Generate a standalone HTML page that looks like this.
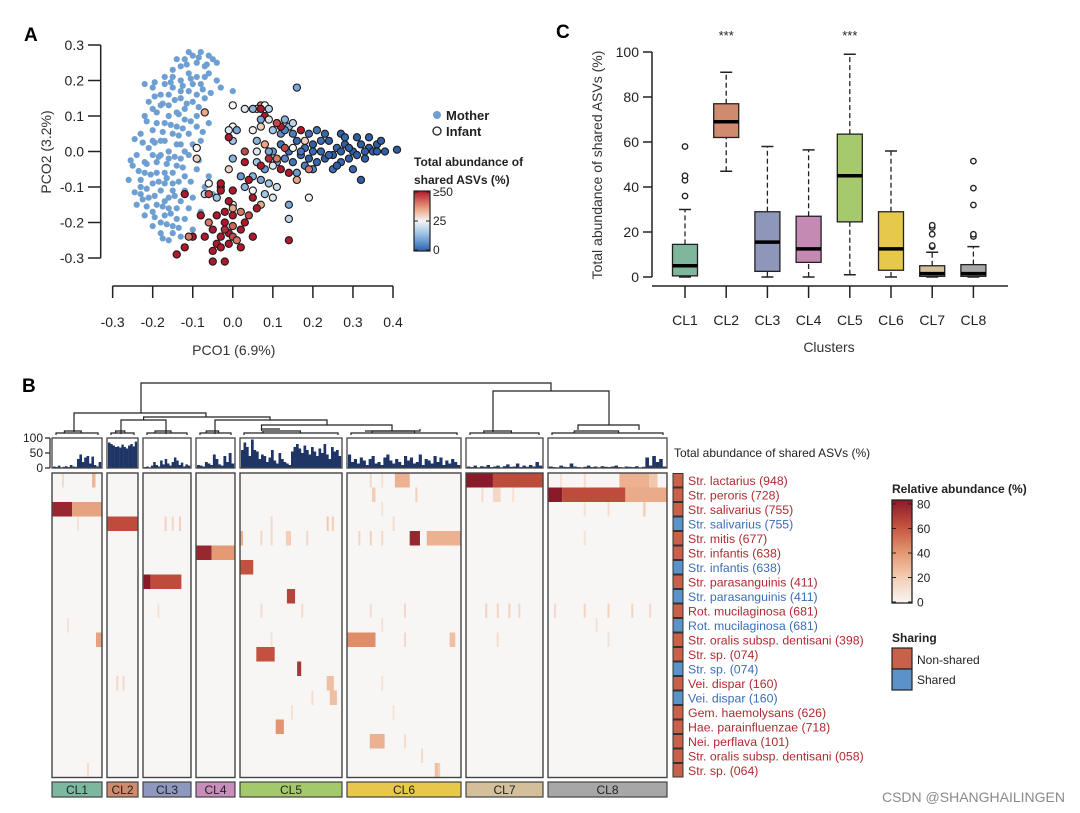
<!DOCTYPE html>
<html><head><meta charset="utf-8">
<style>
html,body{margin:0;padding:0;background:#fff;}
svg{display:block;font-family:"Liberation Sans",Arial,sans-serif;}
</style></head>
<body>
<svg id="fig" width="1080" height="813" viewBox="0 0 1080 813" xmlns="http://www.w3.org/2000/svg">
<rect x="0" y="0" width="1080" height="813" fill="#fff"/>
<text x="24" y="41" font-size="19" font-weight="bold">A</text>
<text x="556" y="38" font-size="19" font-weight="bold">C</text>
<text x="22" y="392" font-size="19" font-weight="bold">B</text>
<g id="pA"></g>
<g id="pC"></g>
<g id="pB"></g>
<text x="1065" y="802" font-size="14" fill="#8a8a8a" text-anchor="end">CSDN @SHANGHAILINGEN</text>
</svg>
<script>
var NS="http://www.w3.org/2000/svg";
function mk(tag,attrs,parent,txt){var e=document.createElementNS(NS,tag);for(var k in attrs)e.setAttribute(k,attrs[k]);if(txt!==undefined)e.textContent=txt;parent.appendChild(e);return e;}
function lerpColor(stops,v){
  if(v<=stops[0][0])return stops[0][1];
  for(var i=1;i<stops.length;i++){if(v<=stops[i][0]){var a=stops[i-1],b=stops[i];var t=(v-a[0])/(b[0]-a[0]);
    var ca=hex(a[1]),cb=hex(b[1]);return "rgb("+Math.round(ca[0]+(cb[0]-ca[0])*t)+","+Math.round(ca[1]+(cb[1]-ca[1])*t)+","+Math.round(ca[2]+(cb[2]-ca[2])*t)+")";}}
  return stops[stops.length-1][1];}
function hex(h){return [parseInt(h.substr(1,2),16),parseInt(h.substr(3,2),16),parseInt(h.substr(5,2),16)];}

/* ===== Panel A data ===== */
var pcoXTicks=[-0.3,-0.2,-0.1,0.0,0.1,0.2,0.3,0.4];
var pcoYTicks=[0.3,0.2,0.1,0.0,-0.1,-0.2,-0.3];
var motherPts=[[-0.12,0.26],[-0.1,0.27],[-0.08,0.28],[-0.06,0.27],[-0.09,0.25],[-0.13,0.24],[-0.05,0.26],[-0.07,0.24],[-0.11,0.22],[-0.15,0.23],[-0.09,0.21],[-0.06,0.22],[-0.04,0.25],[-0.13,0.2],[-0.17,0.21],[-0.2,0.18],[-0.22,0.19],[-0.08,0.19],[-0.04,0.2],[-0.03,0.18],[0.0,0.17],[-0.15,0.18],[-0.11,0.17],[-0.18,0.16],[-0.13,0.15],[-0.21,0.14],[-0.16,0.13],[-0.1,0.14],[-0.07,0.15],[-0.19,0.11],[-0.14,0.11],[-0.22,0.1],[-0.12,0.09],[-0.17,0.08],[-0.09,0.1],[-0.06,0.08],[-0.2,0.06],[-0.15,0.05],[-0.23,0.05],[-0.11,0.05],[-0.18,0.03],[-0.13,0.02],[-0.08,0.03],[-0.21,0.01],[-0.16,0.0],[-0.24,-0.01],[-0.11,-0.01],[-0.19,-0.03],[-0.14,-0.04],[-0.25,-0.04],[-0.22,-0.06],[-0.17,-0.06],[-0.09,-0.05],[-0.12,-0.07],[-0.26,-0.08],[-0.2,-0.09],[-0.15,-0.09],[-0.23,-0.1],[-0.18,-0.11],[-0.12,-0.11],[-0.21,-0.13],[-0.16,-0.13],[-0.1,-0.13],[-0.24,-0.15],[-0.19,-0.15],[-0.14,-0.16],[-0.22,-0.18],[-0.17,-0.18],[-0.12,-0.19],[-0.2,-0.21],[-0.15,-0.21],[-0.18,-0.23],[-0.13,-0.24],[-0.16,-0.25],[-0.06,-0.07],[-0.05,-0.12],[-0.08,-0.17],[-0.06,-0.2],[-0.07,-0.1],[-0.1,-0.22],[-0.17,0.19],[-0.14,0.07],[-0.19,0.08],[-0.16,-0.02],[-0.2,-0.01],[-0.13,-0.02],[-0.15,-0.11],[-0.19,-0.06],[-0.22,-0.03],[-0.17,0.03],[-0.2,0.12],[-0.12,0.12],[-0.1,0.02],[-0.13,-0.14],[-0.18,-0.2],[-0.23,-0.12],[-0.09,0.07],[-0.16,0.16],[-0.07,0.21],[-0.1,0.19],[-0.14,0.26],[-0.11,0.28],[-0.15,0.21],[-0.18,0.13],[-0.16,0.1],[-0.14,0.02],[-0.18,-0.01],[-0.15,-0.06],[-0.17,-0.09],[-0.14,-0.19],[-0.16,-0.16],[-0.2,-0.17],[-0.11,-0.16],[-0.12,0.0],[-0.2,0.03],[-0.23,-0.08],[-0.17,-0.14],[-0.15,-0.23],[-0.13,0.17],[-0.09,0.16],
[-0.115,0.245],[-0.085,0.265],[-0.065,0.245],[-0.105,0.205],[-0.125,0.185],[-0.155,0.195],[-0.145,0.145],[-0.175,0.135],[-0.195,0.155],[-0.215,0.085],[-0.175,0.055],[-0.155,0.075],[-0.135,0.045],[-0.195,0.025],[-0.225,0.025],[-0.185,-0.015],[-0.145,-0.015],[-0.215,-0.035],[-0.165,-0.035],[-0.125,-0.045],[-0.205,-0.065],[-0.235,-0.055],[-0.165,-0.075],[-0.185,-0.085],[-0.135,-0.085],[-0.215,-0.105],[-0.195,-0.125],[-0.145,-0.125],[-0.175,-0.155],[-0.215,-0.155],[-0.155,-0.175],[-0.195,-0.185],[-0.165,-0.205],[-0.135,-0.215],[-0.175,-0.245],[-0.125,0.065],[-0.105,0.085],[-0.135,0.105],[-0.115,0.135],[-0.085,0.125],[-0.075,0.175],[-0.055,0.165],[-0.195,0.195],[-0.245,0.035],[-0.255,-0.025],[-0.245,-0.115],[-0.225,-0.135],[-0.105,-0.085],[-0.085,-0.025],[-0.075,0.055]];
var infantPts=[[0.12,0.02,3],[0.14,0.0,2],[0.16,0.03,1],[0.18,0.01,2],[0.2,0.02,0],[0.22,0.0,1],[0.24,0.03,0],[0.26,0.01,1],[0.28,0.02,0],[0.3,0.0,0],[0.32,0.02,0],[0.34,0.01,0],[0.36,0.02,0],[0.38,0.0,0],[0.41,0.005,0],[0.13,-0.02,5],[0.15,-0.03,3],[0.17,-0.01,2],[0.19,-0.02,0],[0.21,-0.03,1],[0.23,-0.02,0],[0.25,-0.01,0],[0.27,-0.03,1],[0.29,-0.02,0],[0.31,-0.01,0],[0.33,-0.02,0],[0.35,0.0,0],[0.15,0.05,4],[0.19,0.05,2],[0.23,0.05,1],[0.27,0.05,0],[0.31,0.04,0],[0.34,0.04,0],[0.37,0.03,0],[0.21,0.06,3],[0.25,-0.05,2],[0.3,-0.05,1],[0.32,-0.08,0],[0.2,-0.05,5],[0.16,-0.06,8],[0.11,-0.03,10],[0.1,0.0,8],[0.12,0.05,6],[0.14,0.07,12],[0.18,-0.04,4],[0.28,0.04,1],[0.26,-0.04,0],[0.22,0.03,2],[0.17,0.0,3],[0.24,-0.01,1],[0.29,0.01,0],[0.33,0.0,0],[0.36,0.0,0],[0.2,0.0,1],[0.27,0.0,0],
[0.13,0.01,45],[0.17,0.06,50],[0.11,-0.02,40],[0.16,-0.08,35],[0.14,-0.06,50],[0.18,0.03,30],[0.12,-0.05,50],[0.15,0.01,25],[0.19,-0.05,40],
[0.07,0.13,40],[0.08,0.13,25],[0.09,0.12,18],[0.06,0.12,30],[0.05,0.12,12],[0.03,0.12,22],[0.0,0.13,25],[-0.07,0.11,35],[0.08,0.1,50],[0.07,0.09,10],[0.09,0.09,22],[0.11,0.08,25],[0.13,0.09,12],[0.15,0.08,18],[0.13,0.06,5],[0.1,0.06,15],[0.07,0.07,30],[0.0,0.07,25],[0.01,0.06,10],[-0.01,0.06,22],[0.05,0.06,25],[0.0,0.03,15],[-0.01,0.04,50],[0.06,0.03,12],[0.08,0.02,35],[0.06,0.0,22],[0.09,0.0,10],[0.03,0.0,45],[0.0,-0.02,12],[0.03,-0.03,50],[0.06,-0.03,15],[0.08,-0.05,8],[0.1,-0.04,22],[-0.01,-0.05,30],[0.02,-0.07,8],[0.05,-0.07,12],[0.07,-0.08,10],[0.09,-0.09,15],[0.11,-0.1,20],[-0.09,0.01,25],[-0.09,-0.02,30],[-0.06,-0.09,25],[-0.07,-0.12,20],[-0.04,-0.13,15],[-0.03,-0.1,50],[0.03,-0.1,12],[0.05,-0.11,25],[0.08,-0.12,15],[0.1,-0.13,22],[0.14,-0.15,10],[0.14,-0.19,18],[0.19,-0.13,25],[0.16,0.18,10],[0.0,-0.15,25],[0.07,-0.15,35],
[-0.03,-0.09,50],[-0.03,-0.11,50],[0.0,-0.11,50],[-0.12,-0.12,50],[-0.06,-0.12,45],[-0.01,-0.14,50],[0.0,-0.16,35],[-0.02,-0.17,50],[0.02,-0.17,40],[-0.04,-0.18,50],[0.0,-0.18,50],[-0.08,-0.18,50],[0.04,-0.18,45],[-0.06,-0.2,40],[-0.02,-0.2,50],[0.03,-0.2,50],[-0.05,-0.22,50],[-0.01,-0.23,50],[0.02,-0.22,50],[0.05,-0.24,50],[-0.1,-0.24,50],[-0.07,-0.24,50],[-0.03,-0.24,50],[0.0,-0.24,45],[0.01,-0.25,40],[-0.04,-0.26,50],[-0.01,-0.26,50],[0.02,-0.27,50],[-0.03,-0.27,50],[-0.05,-0.28,50],[-0.12,-0.27,50],[-0.14,-0.29,50],[-0.05,-0.31,50],[-0.02,-0.31,50],[-0.11,-0.24,40],[0.14,-0.25,50],[0.0,-0.21,42],[-0.02,-0.22,48],[0.06,-0.16,50],[0.05,-0.13,50],[0.04,-0.08,50],[0.07,-0.04,50],[0.12,0.07,50],[0.07,0.12,50],[0.11,0.08,45],[0.09,-0.02,48]];
var scatterLegend=["Mother","Infant"];
var abundTicks=[50,25,0];
var abundTickLabels=["≥50","25","0"];

/* ===== Panel C data ===== */
var clusters=["CL1","CL2","CL3","CL4","CL5","CL6","CL7","CL8"];
var boxLow=[0,47,0,0,1,0,0,0];
var boxQ1=[0.5,62,2.5,6.5,24.5,3,0.3,0.3];
var boxMed=[5,69,15.5,12.5,45,12.5,1.5,1.5];
var boxQ3=[14.5,77,29,27,63.5,29,5,5.5];
var boxHigh=[30,91,58,56.5,99,56,11,13.5];
var boxOutliers=[[36,43,45,58],[],[],[],[],[],[13.5,14,19,22,23],[18,19,32,39.5,51.5]];
var boxSig=["","***","","","***","","",""];
var boxYTicks=[0,20,40,60,80,100];

/* ===== Panel B data ===== */
var sharedBars=[
 [5,3,8,2,4,6,3,10,5,4,30,45,20,35,40,15,38,10,5,20],
 [85,80,75,70,72,68,78,70,65,75,80,72,88],
 [3,5,2,8,20,10,5,25,12,30,15,8,20,35,25,10,18,5,12,8],
 [10,8,5,20,15,10,45,30,12,8,40,20,50,15],
 [60,85,70,40,95,60,55,30,45,40,20,35,60,25,15,50,30,20,15,10,55,70,80,65,50,75,60,45,70,55,40,65,50,80,45,30,70,55,60,40],
 [45,20,30,15,35,25,10,30,40,15,20,10,35,45,25,15,30,20,10,40,25,35,15,20,45,10,30,25,15,40,20,35,10,25,15,30,20,10],
 [5,3,8,2,6,4,10,3,5,8,2,6,12,4,5,15,3,8,4,10,5,20,8],
 [5,3,2,8,4,3,15,5,3,2,4,8,3,5,2,6,4,3,5,8,3,2,5,4,3,6,2,4,35,8,40,20,30,5]];
var barTicks=[0,50,100];
var taxa=["Str. lactarius (948)","Str. peroris (728)","Str. salivarius (755)","Str. salivarius (755)","Str. mitis (677)","Str. infantis (638)","Str. infantis (638)","Str. parasanguinis (411)","Str. parasanguinis (411)","Rot. mucilaginosa (681)","Rot. mucilaginosa (681)","Str. oralis subsp. dentisani (398)","Str. sp. (074)","Str. sp. (074)","Vei. dispar (160)","Vei. dispar (160)","Gem. haemolysans (626)","Hae. parainfluenzae (718)","Nei. perflava (101)","Str. oralis subsp. dentisani (058)","Str. sp. (064)"];
var taxaShared=[0,0,0,1,0,0,1,0,1,0,1,0,0,1,0,1,0,0,0,0,0];
/* [row, cluster, fracStart, fracEnd, relative abundance %] */
var heatBlocks=[[0,6,0,0.35,80],[0,6,0.35,1,62],[0,7,0.6,0.85,30],[0,7,0.85,0.92,22],[0,5,0.42,0.55,30],[0,0,0.8,0.87,28],
[1,7,0,0.12,80],[1,7,0.12,0.65,62],[1,7,0.65,1,32],[1,5,0.22,0.25,20],[1,6,0.35,0.45,15],
[2,0,0,0.4,75],[2,0,0.4,1,35],[2,7,0.8,0.82,20],
[3,1,0,1,62],
[4,5,0.55,0.64,75],[4,5,0.7,1,30],[4,4,0,0.03,30],[4,4,0.45,0.5,20],
[5,3,0,0.4,75],[5,3,0.4,1,38],
[6,4,0,0.13,60],
[7,2,0,0.8,62],[7,2,0.02,0.15,80],
[8,4,0.46,0.54,65],
[11,5,0,0.25,42],[11,0,0.88,1,35],[11,5,0.9,0.95,25],
[12,4,0.16,0.34,60],
[13,4,0.56,0.6,70],
[14,4,0.85,0.92,25],
[15,4,0.88,0.95,25],
[17,4,0.35,0.43,40],
[18,5,0.2,0.33,30],
[20,5,0.77,0.8,25]];
/* faint single-sample stripes: [row, cluster, frac, relative abundance %] */
var heatStripes=[[0,0,0.2,12],[0,5,0.2,14],[0,5,0.3,10],[0,7,0.1,10],[0,7,0.3,12],[1,5,0.6,18],[1,6,0.2,12],[1,6,0.6,10],[2,5,0.3,10],[2,7,0.3,10],[2,7,0.5,12],
[3,2,0.45,18],[3,2,0.6,15],[3,2,0.75,18],[3,4,0.3,14],[3,4,0.85,22],[3,4,0.9,20],[3,5,0.4,12],[3,0,0.5,10],
[4,4,0.2,15],[4,4,0.3,14],[4,4,0.65,15],[4,5,0.1,16],[4,5,0.2,18],[4,5,0.3,15],[4,7,0.3,10],
[9,6,0.25,18],[9,6,0.4,16],[9,6,0.55,18],[9,6,0.68,14],[9,7,0.05,14],[9,7,0.3,16],[9,7,0.5,18],[9,7,0.7,16],[9,7,0.85,14],[9,5,0.2,12],[9,5,0.5,14],[9,4,0.2,12],[9,4,0.6,12],[9,2,0.3,10],
[10,5,0.3,10],[10,7,0.4,10],[10,0,0.3,10],
[11,6,0.4,12],[11,7,0.5,10],[11,5,0.5,14],[11,4,0.3,10],
[14,1,0.3,15],[14,1,0.5,14],[14,5,0.3,10],[15,4,0.7,12],[16,5,0.4,10],[16,4,0.5,10],
[18,5,0.5,12],[19,5,0.65,14],[20,0,0.7,12],[20,5,0.8,20]];
var relTicks=[0,20,40,60,80];

/* ===== Panel A drawing ===== */
(function(){
var g=document.getElementById('pA');
function X(v){return 232.8+v*400.5;}
function Y(v){return 151.5-v*355;}
var colInf=[[0,"#2f5ea8"],[8,"#6a9ad4"],[16,"#a9cbe8"],[25,"#f5f5f5"],[35,"#eba684"],[50,"#b2182b"]];
var ax=mk('g',{},g);


mk('line',{x1:100.7,y1:Y(0.3),x2:100.7,y2:Y(-0.3),stroke:"#222","stroke-width":1.5},ax);
pcoYTicks.forEach(function(t){
  mk('line',{x1:88,y1:Y(t),x2:100.7,y2:Y(t),stroke:"#222","stroke-width":1.5},ax);
  var tx=mk('text',{x:84,y:Y(t)+5,"font-size":14,"text-anchor":"end",fill:"#222"},ax,t.toFixed(1));
  
  
});
var ax2=mk('g',{},g);


mk('line',{x1:X(-0.3),y1:286,x2:X(0.4),y2:286,stroke:"#222","stroke-width":1.5},ax2);
pcoXTicks.forEach(function(t){
  mk('line',{x1:X(t),y1:286,x2:X(t),y2:298,stroke:"#222","stroke-width":1.5},ax2);
  var tx=mk('text',{x:X(t),y:327,"font-size":14,"text-anchor":"middle",fill:"#222"},ax2,t.toFixed(1));
  
  
});
var xt=mk('text',{x:X(0.0)+1,y:355,"font-size":14,"text-anchor":"middle",fill:"#333"},g,"PCO1 (6.9%)");


var yt=mk('text',{x:0,y:0,"font-size":14,"text-anchor":"middle",fill:"#333",transform:"translate(51,152) rotate(-90)"},g,"PCO2 (3.2%)");


var mg=mk('g',{},g);


motherPts.forEach(function(p){
  var c=mk('circle',{cx:X(p[0]),cy:Y(p[1]),r:3.1,fill:"#6d9fd2"},mg);
  
  
});
var ig=mk('g',{},g);


infantPts.forEach(function(p){
  var c=mk('circle',{cx:X(p[0]),cy:Y(p[1]),r:3.6,fill:lerpColor(colInf,p[2]),stroke:"#1a1a1a","stroke-width":1.1},ig);
  
  
});
var lg=mk('g',{},g);


mk('circle',{cx:437,cy:115,r:4,fill:"#6d9fd2"},lg);
mk('text',{x:446,y:120,"font-size":13,"font-weight":"bold",fill:"#222"},lg,scatterLegend[0]);
mk('circle',{cx:437,cy:131,r:4,fill:"#fff",stroke:"#222","stroke-width":1.3},lg);
mk('text',{x:446,y:136,"font-size":13,"font-weight":"bold",fill:"#222"},lg,scatterLegend[1]);
mk('text',{x:414,y:166,"font-size":12,"font-weight":"bold",fill:"#222"},lg,"Total abundance of");
mk('text',{x:414,y:184,"font-size":12,"font-weight":"bold",fill:"#222"},lg,"shared ASVs (%)");
var defs=mk('defs',{},g);
var gr=mk('linearGradient',{id:"gA",x1:0,y1:1,x2:0,y2:0},defs);
[[0,"#2f5ea8"],[0.16,"#6a9ad4"],[0.32,"#a9cbe8"],[0.5,"#f5f5f5"],[0.7,"#eba684"],[1,"#b2182b"]].forEach(function(s){mk('stop',{offset:s[0],"stop-color":s[1]},gr);});
var cb=mk('rect',{x:414,y:191,width:16,height:60,fill:"url(#gA)",stroke:"#222","stroke-width":1.2},lg);


abundTicks.forEach(function(t,i){
  var yy=251-t/50*58-1;
  mk('line',{x1:414,y1:yy,x2:418,y2:yy,stroke:"#222"},lg);
  mk('line',{x1:426,y1:yy,x2:430,y2:yy,stroke:"#222"},lg);
  mk('text',{x:433,y:yy+4,"font-size":12,fill:"#222"},lg,abundTickLabels[i]);
});
})();

/* ===== Panel C drawing ===== */
(function(){
var g=document.getElementById('pC');
var cols=["#7fb79c","#d08a6e","#8e97ba","#c58ab3","#a7c96d","#e6c84b","#d3c199","#a8a8a8"];
function Y(v){return 277-v*2.25;}
function X(i){return 685+i*41.2;}
mk('line',{x1:652,y1:Y(0),x2:652,y2:Y(100),stroke:"#222","stroke-width":1.5},g);
boxYTicks.forEach(function(t){
  mk('line',{x1:643,y1:Y(t),x2:652,y2:Y(t),stroke:"#222","stroke-width":1.5},g);
  var tx=mk('text',{x:639,y:Y(t)+5,"font-size":14,"text-anchor":"end",fill:"#222"},g,String(t));
  
  
});
mk('line',{x1:652,y1:286,x2:1008,y2:286,stroke:"#222","stroke-width":1.5},g);
var yt=mk('text',{x:0,y:0,"font-size":14,"text-anchor":"middle",fill:"#333",transform:"translate(602,165) rotate(-90)"},g,"Total abundance of shared ASVs (%)");


var xt=mk('text',{x:829,y:352,"font-size":14,"text-anchor":"middle",fill:"#333"},g,"Clusters");


clusters.forEach(function(c,i){
  var x=X(i),w=25;
  var bg=mk('g',{},g);
  
  
  mk('line',{x1:x,y1:286,x2:x,y2:298,stroke:"#222","stroke-width":1.5},bg);
  mk('text',{x:x,y:325,"font-size":14,"text-anchor":"middle",fill:"#222"},bg,c);
  mk('line',{x1:x,y1:Y(boxLow[i]),x2:x,y2:Y(boxQ1[i]),stroke:"#222","stroke-width":1.3,"stroke-dasharray":"5,3"},bg);
  mk('line',{x1:x,y1:Y(boxQ3[i]),x2:x,y2:Y(boxHigh[i]),stroke:"#222","stroke-width":1.3,"stroke-dasharray":"5,3"},bg);
  mk('line',{x1:x-6,y1:Y(boxLow[i]),x2:x+6,y2:Y(boxLow[i]),stroke:"#222","stroke-width":1.5},bg);
  mk('line',{x1:x-6,y1:Y(boxHigh[i]),x2:x+6,y2:Y(boxHigh[i]),stroke:"#222","stroke-width":1.5},bg);
  mk('rect',{x:x-w/2,y:Y(boxQ3[i]),width:w,height:Y(boxQ1[i])-Y(boxQ3[i]),fill:cols[i],stroke:"#222","stroke-width":1.3},bg);
  mk('line',{x1:x-w/2,y1:Y(boxMed[i]),x2:x+w/2,y2:Y(boxMed[i]),stroke:"#000","stroke-width":3.5},bg);
  boxOutliers[i].forEach(function(o){mk('circle',{cx:x,cy:Y(o),r:2.7,fill:"#fff",stroke:"#222","stroke-width":1.4},bg);});
  if(boxSig[i])mk('text',{x:x,y:40,"font-size":13,"text-anchor":"middle",fill:"#222"},bg,boxSig[i]);
});
})();

/* ===== Panel B drawing ===== */
(function(){
var g=document.getElementById('pB');
var cx0=[52,107,143,196,240,347,466,548];
var cx1=[102,138,191,235,342,461,543,667];
var ccols=["#7cb8a0","#d08a6e","#8e97bd","#c98dbc","#a4c96b","#e8c84b","#d3c09a","#a7a7a7"];
var hmTop=473,rowH=14.5,nRows=taxa.length,hmBot=hmTop+nRows*rowH;
var relStops=[[0,"#f7f6f5"],[20,"#f3cdb4"],[40,"#e2956e"],[60,"#c3513f"],[80,"#8a1a2a"]];
function centers(i){return (cx0[i]+cx1[i])/2;}
var dg=mk('g',{stroke:"#222","stroke-width":1.2,fill:"none"},g);


var segs=[
 "M141,413 V383 H551 V391",
 "M74,432 V413 H206 V417",
 "M143.6,420 V417 H270 V420",
 "M121,434 V420 H166 V434",
 "M215,434 V420 H327 V425",
 "M261.5,429 V425 H392 V429",
 "M493,432 V391 H609 V425",
 "M578,430 V425 H639 V430"];
segs.forEach(function(d){mk('path',{d:d},dg);});
for(var i=0;i<8;i++){
  var l=cx0[i]+4,r=cx1[i]-4;
  mk('path',{d:"M"+l+",435 V433 H"+r+" V435"},dg);
  mk('path',{d:"M"+(l+(r-l)*0.2)+",433 V431 H"+(l+(r-l)*0.6)+" V433"},dg);
}
mk('path',{d:"M261.5,429 H280 M261.5,429 V431 M392,429 V431 M365,431 H420 V429"},dg);
var bp=mk('g',{},g);


function BY(v){return 468-v*0.3;}
mk('line',{x1:50,y1:BY(0),x2:50,y2:BY(100),stroke:"#222","stroke-width":1.2},bp);
barTicks.forEach(function(t){
  mk('line',{x1:45,y1:BY(t),x2:50,y2:BY(t),stroke:"#222","stroke-width":1.2},bp);
  var tx=mk('text',{x:43,y:BY(t)+4,"font-size":12,"text-anchor":"end",fill:"#222"},bp,String(t));
  
  
});
sharedBars.forEach(function(arr,ci){
  var w=(cx1[ci]-cx0[ci]-2)/arr.length;
  arr.forEach(function(v,j){
    var b=mk('rect',{x:cx0[ci]+1+j*w,y:BY(v),width:w+0.2,height:BY(0)-BY(v),fill:"#1f3565"},bp);
    
    
  });
  mk('rect',{x:cx0[ci],y:438,width:cx1[ci]-cx0[ci],height:30,fill:"none",stroke:"#444","stroke-width":1.3},bp);
});
var bt=mk('text',{x:674,y:457,"font-size":12,fill:"#222"},g,"Total abundance of shared ASVs (%)");


var hm=mk('g',{},g);


for(var c=0;c<8;c++){mk('rect',{x:cx0[c],y:hmTop,width:cx1[c]-cx0[c],height:hmBot-hmTop,fill:"#f7f6f5"},hm);}
heatStripes.forEach(function(s){
  var c=s[1],w=cx1[c]-cx0[c];
  var r=mk('rect',{x:cx0[c]+s[2]*w,y:hmTop+s[0]*rowH,width:2,height:rowH,fill:lerpColor(relStops,s[3])},hm);
  
  
});
heatBlocks.forEach(function(b){
  var c=b[1],w=cx1[c]-cx0[c];
  var r=mk('rect',{x:cx0[c]+b[2]*w,y:hmTop+b[0]*rowH,width:(b[3]-b[2])*w,height:rowH,fill:lerpColor(relStops,b[4])},hm);
  
  
});
for(var c=0;c<8;c++){
  var box=mk('rect',{x:cx0[c],y:hmTop,width:cx1[c]-cx0[c],height:hmBot-hmTop,fill:"none",stroke:"#444","stroke-width":1.4},hm);
  
  
  var lb=mk('g',{},g);
  
  
  mk('rect',{x:cx0[c],y:782,width:cx1[c]-cx0[c],height:15,fill:ccols[c],stroke:"#444","stroke-width":1.2},lb);
  mk('text',{x:centers(c),y:794,"font-size":12,"text-anchor":"middle",fill:"#222"},lb,clusters[c]);
}
var rl=mk('g',{},g);


taxa.forEach(function(t,i){
  var y=hmTop+i*rowH;
  var s=mk('rect',{x:673,y:y+0.5,width:10,height:rowH-1,fill:taxaShared[i]?"#5b93c8":"#c9604a",stroke:"#333","stroke-width":1},rl);
  
  
  var tx=mk('text',{x:688,y:y+rowH/2+4.5,"font-size":12.3,fill:taxaShared[i]?"#3c6db5":"#b02a30"},rl,t);
  
  
});
var la=mk('g',{},g);


mk('text',{x:892,y:493,"font-size":12,"font-weight":"bold",fill:"#222"},la,"Relative abundance (%)");
var defs=mk('defs',{},g);
var gr=mk('linearGradient',{id:"gB",x1:0,y1:1,x2:0,y2:0},defs);
relStops.forEach(function(s){mk('stop',{offset:s[0]/80,"stop-color":s[1]},gr);});
mk('rect',{x:892,y:500,width:20,height:103,fill:"url(#gB)",stroke:"#222","stroke-width":1.3},la);
relTicks.forEach(function(t){
  var yy=602-t/80*98;
  mk('line',{x1:892,y1:yy,x2:896,y2:yy,stroke:"#222"},la);
  mk('line',{x1:908,y1:yy,x2:912,y2:yy,stroke:"#222"},la);
  mk('text',{x:917,y:yy+4.5,"font-size":12,fill:"#222"},la,String(t));
});
var sh=mk('g',{},g);


mk('text',{x:892,y:642,"font-size":12,"font-weight":"bold",fill:"#222"},sh,"Sharing");
mk('rect',{x:892,y:648,width:20,height:21,fill:"#c9604a",stroke:"#222","stroke-width":1.2},sh);
mk('rect',{x:892,y:669,width:20,height:21,fill:"#5b93c8",stroke:"#222","stroke-width":1.2},sh);
mk('text',{x:917,y:664,"font-size":12,fill:"#222"},sh,"Non-shared");
mk('text',{x:917,y:684,"font-size":12,fill:"#222"},sh,"Shared");
})();
</script>
</body></html>
